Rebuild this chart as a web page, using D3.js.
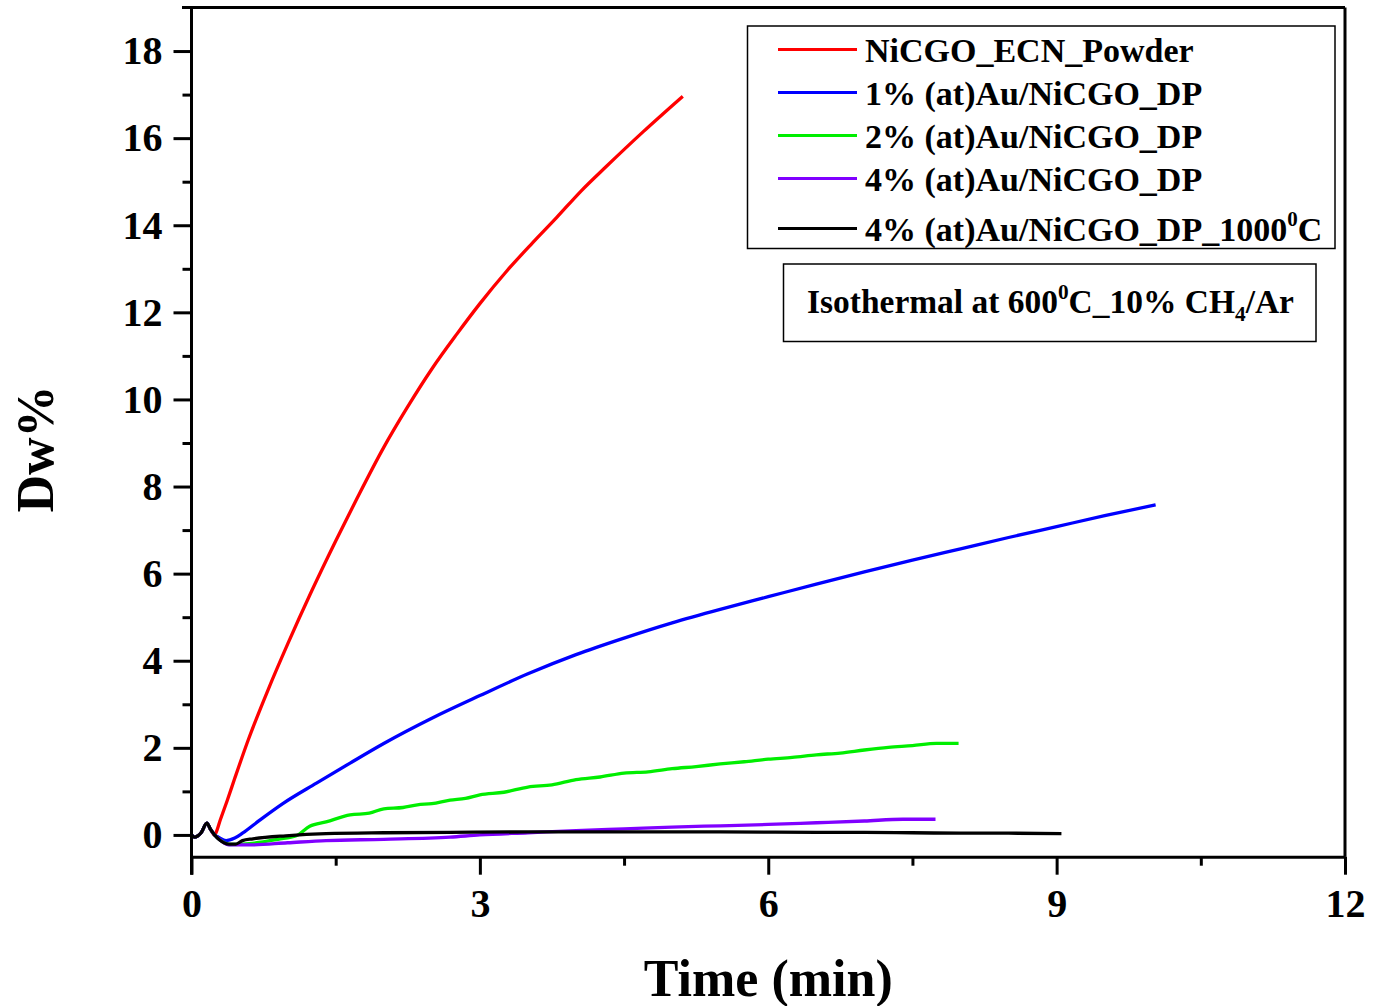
<!DOCTYPE html>
<html>
<head>
<meta charset="utf-8">
<script src="https://cdn.jsdelivr.net/npm/d3@7"></script>
<style>
  html, body { margin: 0; padding: 0; background: #fff; }
  svg { display: block; }
  text { font-family: "Liberation Serif", "Times New Roman", serif; font-weight: bold; fill: #000; }
</style>
</head>
<body>
<svg id="chart" width="1373" height="1006"></svg>
<script>
// Mass gain (Dw%) versus time during the isothermal step at 600 °C in 10% CH4/Ar

const xMajorTicks = [0, 3, 6, 9, 12];
const xMinorTicks = [1.5, 4.5, 7.5, 10.5];
const yMajorTicks = [0, 2, 4, 6, 8, 10, 12, 14, 16, 18];
const yMinorTicks = [1, 3, 5, 7, 9, 11, 13, 15, 17];

// shared start of every run: small transient at the gas switch
const startT = [0, 0.03, 0.1, 0.16, 0.2, 0.24];
const startV = [0, -0.05, 0.05, 0.27, 0.12, 0.0];

const powderT = [0.25, 0.3, 0.37, 0.45, 0.59, 0.8, 1.0, 1.25, 1.5, 1.72, 2.0, 2.24, 2.5, 2.76, 3.0, 3.28, 3.55, 3.8, 4.05, 4.32, 4.7, 5.11];
const powderV = [0.03, 0.35, 0.78, 1.3, 2.18, 3.35, 4.38, 5.6, 6.75, 7.72, 8.9, 9.8, 10.7, 11.5, 12.2, 12.95, 13.6, 14.18, 14.78, 15.36, 16.15, 16.96];

const au1T = [0.28, 0.36, 0.45, 0.53, 0.71, 0.95, 1.3, 1.65, 2.0, 2.5, 3.0, 3.5, 4.0, 4.5, 5.0, 5.5, 6.0, 6.5, 7.0, 7.5, 8.0, 8.5, 9.0, 9.5, 10.03];
const au1V = [-0.05, -0.13, -0.07, 0.04, 0.34, 0.72, 1.19, 1.65, 2.1, 2.68, 3.2, 3.7, 4.14, 4.52, 4.87, 5.18, 5.47, 5.76, 6.04, 6.31, 6.57, 6.83, 7.08, 7.33, 7.58];

const au2T = [0.3, 0.4, 0.6, 0.9, 1.09, 1.23, 1.4, 1.65, 1.85, 2.0, 2.2, 2.35, 2.5, 2.69, 2.85, 3.0, 3.25, 3.5, 3.75, 4.0, 4.25, 4.5, 4.75, 5.0, 5.25, 5.5, 5.75, 6.0, 6.25, 6.5, 6.75, 7.0, 7.25, 7.5, 7.75, 7.98];
const au2V = [-0.12, -0.22, -0.2, -0.1, -0.02, 0.2, 0.3, 0.46, 0.5, 0.6, 0.63, 0.69, 0.72, 0.8, 0.84, 0.92, 0.98, 1.1, 1.15, 1.27, 1.33, 1.42, 1.45, 1.52, 1.57, 1.63, 1.68, 1.74, 1.78, 1.84, 1.88, 1.95, 2.01, 2.05, 2.1, 2.1];

const au4T = [0.3, 0.39, 0.6, 1.0, 1.4, 2.0, 2.69, 3.0, 3.5, 4.0, 4.5, 5.0, 5.5, 6.0, 6.5, 7.0, 7.4, 7.74];
const au4V = [-0.12, -0.23, -0.23, -0.18, -0.13, -0.1, -0.05, 0.0, 0.05, 0.1, 0.14, 0.18, 0.21, 0.24, 0.28, 0.32, 0.36, 0.36];

const au4hT = [0.29, 0.39, 0.46, 0.53, 0.64, 0.98, 1.4, 2.0, 2.69, 3.5, 4.5, 5.5, 6.5, 7.0, 7.5, 8.0, 8.5, 9.05];
const au4hV = [-0.11, -0.21, -0.21, -0.13, -0.09, -0.02, 0.03, 0.05, 0.06, 0.07, 0.07, 0.07, 0.06, 0.06, 0.05, 0.04, 0.04, 0.03];

const seriesNames = ["NiCGO_ECN_Powder", "1% (at)Au/NiCGO_DP", "2% (at)Au/NiCGO_DP", "4% (at)Au/NiCGO_DP", "4% (at)Au/NiCGO_DP_1000"];
const seriesColors = ["#ff0000", "#0000ff", "#00ee00", "#8000ff", "#000000"];
const seriesT = [powderT, au1T, au2T, au4T, au4hT];
const seriesV = [powderV, au1V, au2V, au4V, au4hV];

const svg = d3.select("#chart");
const x = d3.scaleLinear().domain([0, 12]).range([191.5, 1345]);
const y = d3.scaleLinear().domain([-0.5, 19]).range([856.7, 7.5]);

const series = seriesNames.map((name, i) => ({
  name,
  color: seriesColors[i],
  points: startT.concat(seriesT[i]).map((t, j) => [t, startV.concat(seriesV[i])[j]])
}));

// data lines, later series drawn on top
const line = d3.line().x(d => x(d[0])).y(d => y(d[1])).curve(d3.curveMonotoneX);
svg.append("g")
  .selectAll("path")
  .data(series)
  .join("path")
  .attr("d", d => line(d.points))
  .attr("fill", "none")
  .attr("stroke", d => d.color)
  .attr("stroke-width", 3.3)
  .attr("stroke-linejoin", "round");

// frame: top and right edges
svg.append("line").attr("x1", 182).attr("x2", x(12)).attr("y1", y(19)).attr("y2", y(19))
  .attr("stroke", "#000").attr("stroke-width", 3);
svg.append("line").attr("x1", x(12)).attr("x2", x(12)).attr("y1", y(19)).attr("y2", y(-0.5))
  .attr("stroke", "#000").attr("stroke-width", 3);

function styleAxis(g) {
  g.selectAll("path.domain").attr("stroke", "#000").attr("stroke-width", 3);
  g.selectAll(".tick line").attr("stroke", "#000").attr("stroke-width", 3);
  g.selectAll(".tick text").style("font-family", "'Liberation Serif', serif")
    .style("font-weight", "bold").style("font-size", "40px").attr("fill", "#000");
}

// x axis
const gx = svg.append("g").attr("transform", `translate(0,${y(-0.5)})`);
gx.call(d3.axisBottom(x).tickValues(xMajorTicks).tickSize(18).tickSizeOuter(0).tickPadding(14).tickFormat(d3.format("d")));
styleAxis(gx);
const gxm = svg.append("g").attr("transform", `translate(0,${y(-0.5)})`);
gxm.call(d3.axisBottom(x).tickValues(xMinorTicks).tickSize(9).tickSizeOuter(0).tickFormat(""));
styleAxis(gxm);
gxm.select("path.domain").remove();

// y axis
const gy = svg.append("g").attr("transform", `translate(${x(0)},0)`);
gy.call(d3.axisLeft(y).tickValues(yMajorTicks).tickSize(18).tickSizeOuter(0).tickPadding(11).tickFormat(d3.format("d")));
styleAxis(gy);
gy.select("path.domain").attr("d", `M0,${y(19)}V${y(-0.5) + 18}`);
const gym = svg.append("g").attr("transform", `translate(${x(0)},0)`);
gym.call(d3.axisLeft(y).tickValues(yMinorTicks).tickSize(9).tickSizeOuter(0).tickFormat(""));
styleAxis(gym);
gym.select("path.domain").remove();

// axis titles
svg.append("text")
  .attr("x", x(6)).attr("y", 996)
  .attr("text-anchor", "middle")
  .style("font-size", "52px")
  .text("Time (min)");

svg.append("text")
  .attr("transform", "translate(53,449) rotate(-90)")
  .attr("text-anchor", "middle")
  .style("font-size", "52px")
  .text("Dw%");

// legend
const legend = svg.append("g");
legend.append("rect")
  .attr("x", 747.5).attr("y", 26).attr("width", 587.5).attr("height", 222.5)
  .attr("fill", "#fff").attr("stroke", "#000").attr("stroke-width", 1.5);
const rowY = [49.5, 92.5, 135.5, 178.5, 228.5];
const rows = legend.selectAll("g.row").data(series).join("g").attr("class", "row")
  .attr("transform", (d, i) => `translate(0,${rowY[i]})`);
rows.append("line").attr("x1", 778).attr("x2", 857).attr("y1", 0).attr("y2", 0)
  .attr("stroke", d => d.color).attr("stroke-width", 3);
const rowText = rows.append("text").attr("x", 865).attr("y", 12).style("font-size", "34px");
rowText.append("tspan").text(d => d.name);
rowText.filter((d, i) => i === 4).append("tspan").attr("dy", -15).style("font-size", "21px").text("0");
rowText.filter((d, i) => i === 4).append("tspan").attr("dy", 15).text("C");

// condition note
const note = svg.append("g");
note.append("rect")
  .attr("x", 783.5).attr("y", 264).attr("width", 532.5).attr("height", 77.5)
  .attr("fill", "#fff").attr("stroke", "#000").attr("stroke-width", 1.5);
const noteText = note.append("text").attr("x", 807).attr("y", 313)
  .style("font-size", "33px")
  .attr("textLength", 487).attr("lengthAdjust", "spacingAndGlyphs");
noteText.append("tspan").text("Isothermal at 600");
noteText.append("tspan").attr("dy", -14).style("font-size", "21px").text("0");
noteText.append("tspan").attr("dy", 14).text("C_10% CH");
noteText.append("tspan").attr("dy", 8).style("font-size", "21px").text("4");
noteText.append("tspan").attr("dy", -8).text("/Ar");
</script>
</body>
</html>
